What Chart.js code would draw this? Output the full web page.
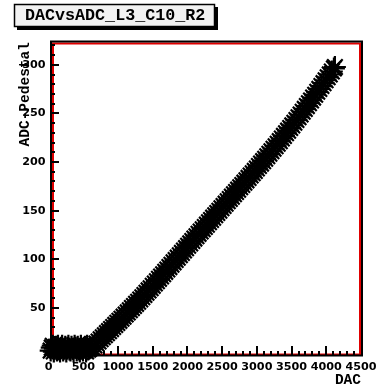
<!DOCTYPE html>
<html><head><meta charset="utf-8">
<style>html,body{margin:0;padding:0;background:#fff}canvas{display:block}</style>
<script src="https://cdn.jsdelivr.net/npm/chart.js@4"></script></head>
<body><canvas id="c" width="376" height="389"></canvas>
<script>
const titleText = "DACvsADC_L3_C10_R2";
const xTitle = "DAC";
const yTitle = "ADC-Pedestal";
const dacValues = [30,45,60,75,90,105,120,135,150,165,180,195,210,225,240,255,270,285,300,315,330,345,360,375,390,405,420,435,450,465,480,495,510,525,540,555,570,585,600,630,660,690,720,750,780,810,840,870,900,930,960,990,1020,1050,1080,1110,1140,1170,1200,1230,1260,1290,1320,1350,1380,1410,1440,1470,1500,1530,1560,1590,1620,1650,1680,1710,1740,1770,1800,1830,1860,1890,1920,1950,1980,2010,2040,2070,2100,2130,2160,2190,2220,2250,2280,2310,2340,2370,2400,2430,2460,2490,2520,2550,2580,2610,2640,2670,2700,2730,2760,2790,2820,2850,2880,2910,2940,2970,3000,3030,3060,3090,3120,3150,3180,3210,3240,3270,3300,3330,3360,3390,3420,3450,3480,3510,3540,3570,3600,3630,3660,3690,3720,3750,3780,3810,3840,3870,3900,3930,3960,3990,4020,4050,4080,4110,4124];
const adcValues = [6,9,11,5,8,10,6,11,7,5,9,11,6,8,10,5,9,11,7,6,10,8,5,11,9,6,10,7,5,11,8,6,9,10,5,11,7,8,9,9.1,11.2,13.3,15.4,17.6,19.7,21.8,23.9,26,28.1,30.3,32.4,34.5,36.6,38.7,40.9,43.1,45.3,47.5,49.7,51.9,54.1,56.3,58.6,60.9,63.2,65.5,67.9,70.2,72.6,75,77.4,79.8,82.2,84.6,87,89.4,91.9,94.3,96.8,99.2,101.6,104.1,106.5,109,111.4,113.9,116.3,118.8,121.2,123.7,126.1,128.5,130.9,133.2,135.6,138,140.4,142.8,145.2,147.6,149.9,152.4,154.8,157.2,159.6,162,164.4,166.8,169.2,171.6,174,176.4,178.8,181.2,183.7,186.1,188.5,190.9,193.4,195.9,198.4,200.9,203.4,205.9,208.5,211.1,213.7,216.3,218.9,221.5,224.2,226.9,229.6,232.3,235,237.7,240.5,243.3,246.1,248.9,251.8,254.7,257.6,260.5,263.4,266.3,269.3,272.3,275.3,278.2,281.2,284.2,287.2,290.2,293.2,296.3,297.8];
const xMajor = 500, xMinor = 100, yMajor = 50, yMinor = 10;
const xMax = 4500, yMax = 323.5;

const tickFont = {family:"'DejaVu Sans'",weight:'bold',size:11.2};
const axisFont = {family:"'Liberation Mono'",weight:'bold',size:14.5};

const frame = {
  id:'frame',
  afterLayout(chart){
    const t = chart.titleBlock;
    if(t){ t.left = 25; t.right = 210; }
  },
  beforeDraw(chart){
    const c = chart.ctx;
    c.save();
    c.fillStyle='#000'; c.fillRect(17,7,201,23);
    c.fillStyle='#f2f2f2'; c.strokeStyle='#000'; c.lineWidth=1.5;
    c.fillRect(14.5,4.5,200,22); c.strokeRect(14.5,4.5,200,22);
    c.restore();
  },
  beforeDatasetsDraw(chart){
    const c = chart.ctx, x = chart.scales.x, y = chart.scales.y;
    const l=51, r=361, t=41.5, b=355;
    c.save();
    c.lineWidth=2; c.strokeStyle='#e00000'; c.strokeRect(l+2,t+2,r-l-3,b-t-2.5);
    c.strokeStyle='#000'; c.beginPath();
    c.moveTo(l,t); c.lineTo(r+1,t); c.lineTo(r+1,b+0.5); c.lineTo(l,b+0.5); c.closePath(); c.stroke();
    c.lineWidth=2; c.beginPath();
    for(let v=xMinor; v<xMax; v+=xMinor){
      const p=Math.round(x.getPixelForValue(v)), len=(v%xMajor===0)?9:4;
      c.moveTo(p,b); c.lineTo(p,b-len);
    }
    for(let v=yMinor; v<yMax; v+=yMinor){
      const p=Math.round(y.getPixelForValue(v)), len=(v%yMajor===0)?8:4;
      c.moveTo(l,p); c.lineTo(l+len,p);
    }
    c.stroke();
    c.restore();
  }
};

new Chart(document.getElementById('c'),{
  type:'scatter',
  data:{datasets:[{
    label:yTitle,
    data:dacValues.map((d,i)=>({x:d,y:adcValues[i]})),
    pointStyle:'star',pointRadius:11,pointBorderColor:'#000',pointBorderWidth:2.2,
    pointBackgroundColor:'#000',showLine:false,clip:false
  }]},
  options:{
    responsive:false,animation:false,
    layout:{padding:{left:0,right:15,top:0,bottom:0}},
    plugins:{
      legend:{display:false},tooltip:{enabled:false},
      title:{display:true,text:titleText,align:'start',color:'#000',
        font:{family:"'Liberation Mono'",weight:'bold',size:16.7},
        padding:{top:6,bottom:16},fullSize:true}
    },
    scales:{
      x:{type:'linear',min:0,max:xMax,
        afterFit(s){s.height=389-356.4;s.paddingLeft=0;s.paddingRight=0;},
        grid:{display:false,drawTicks:false},border:{display:false},
        ticks:{stepSize:xMajor,padding:4,color:'#000',font:tickFont,maxRotation:0,autoSkip:false,includeBounds:false,
          callback(v){return String(v);}},
        title:{display:true,text:xTitle,align:'end',color:'#000',font:axisFont,padding:{top:0,bottom:0}}},
      y:{type:'linear',min:0,max:yMax,
        afterFit(s){s.width=48.6;s.paddingTop=0;s.paddingBottom=0;},
        grid:{display:false,drawTicks:false},border:{display:false},
        ticks:{stepSize:yMajor,padding:3,color:'#000',font:tickFont,autoSkip:false,includeBounds:false,
          callback(v){return v===0?'':String(v);}},
        title:{display:true,text:yTitle,align:'end',color:'#000',font:axisFont,padding:{top:17,bottom:0}}}
    }
  },
  plugins:[frame]
});
</script></body></html>
